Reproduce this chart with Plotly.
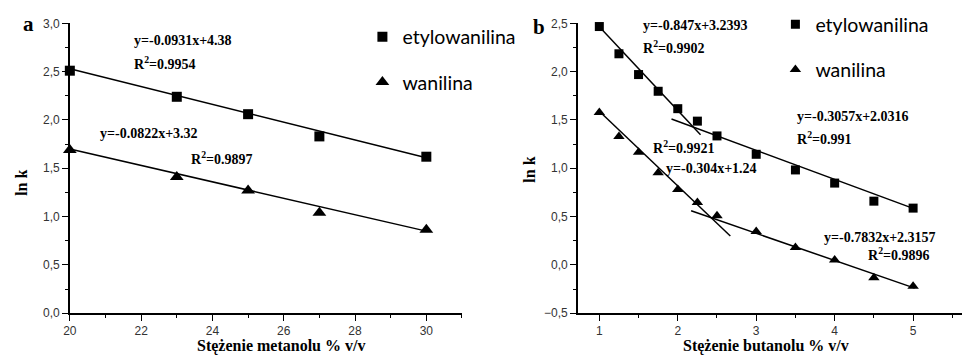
import plotly.graph_objects as go

W, H = 967, 364

# ---------------- data: panel a (metanol) ----------------
a_x = [20, 23, 25, 27, 30]
a_ety = [2.51, 2.24, 2.06, 1.83, 1.62]
a_wan = [1.69, 1.41, 1.27, 1.04, 0.865]
# fit lines (x endpoints, y endpoints)
a_fit_ety_x = [20, 30]
a_fit_ety_y = [2.53, 1.61]
a_fit_wan_x = [20, 30]
a_fit_wan_y = [1.70, 0.85]

# ---------------- data: panel b (butanol) ----------------
b_x = [1, 1.25, 1.5, 1.75, 2, 2.25, 2.5, 3, 3.5, 4, 4.5, 5]
b_ety = [2.467, 2.185, 1.97, 1.797, 1.617, 1.488, 1.335, 1.145, 0.983, 0.847, 0.66, 0.588]
b_wan = [1.578, 1.33, 1.165, 0.953, 0.78, 0.647, 0.508, 0.346, 0.18, 0.05, -0.133, -0.22]
b_fit_ety1_x = [1.0, 2.29]
b_fit_ety1_y = [2.465, 1.348]
b_fit_ety2_x = [1.92, 5.0]
b_fit_ety2_y = [1.51, 0.585]
b_fit_wan1_x = [1.0, 2.67]
b_fit_wan1_y = [1.59, 0.30]
b_fit_wan2_x = [2.17, 5.02]
b_fit_wan2_y = [0.56, -0.24]

series_names = ["etylowanilina", "wanilina"]
a_xticks = [20, 22, 24, 26, 28, 30]
a_yticks = [0.0, 0.5, 1.0, 1.5, 2.0, 2.5, 3.0]
b_xticks = [1, 2, 3, 4, 5]
b_yticks = [-0.5, 0.0, 0.5, 1.0, 1.5, 2.0, 2.5]

eqs = [
    # text, left px, center py
    ("y=-0.0931x+4.38", 126, 35),
    ("R<sup>2</sup>=0.9954", 126, 58),
    ("y=-0.0822x+3.32", 92, 132),
    ("R<sup>2</sup>=0.9897", 183, 157),
    ("y=-0.847x+3.2393", 639, 19),
    ("R<sup>2</sup>=0.9902", 639, 42),
    ("y=-0.3057x+2.0316", 794, 114),
    ("R<sup>2</sup>=0.991", 794, 136),
    ("R<sup>2</sup>=0.9921", 649, 146),
    ("y=-0.304x+1.24", 662, 168),
    ("y=-0.7832x+2.3157", 821, 240),
    ("R<sup>2</sup>=0.9896", 865, 257),
]

fig = go.Figure()

line_style = dict(color="black", width=1.5)

# panel a
fig.add_trace(go.Scatter(x=a_fit_ety_x, y=a_fit_ety_y, mode="lines", line=line_style,
                         xaxis="x", yaxis="y", showlegend=False, hoverinfo="skip"))
fig.add_trace(go.Scatter(x=a_fit_wan_x, y=a_fit_wan_y, mode="lines", line=line_style,
                         xaxis="x", yaxis="y", showlegend=False, hoverinfo="skip"))
fig.add_trace(go.Scatter(x=a_x, y=a_ety, mode="markers", name=series_names[0],
                         marker=dict(symbol="square", size=10, color="black"),
                         xaxis="x", yaxis="y", cliponaxis=False,
                         legend="legend", legendgroup="a1"))
fig.add_trace(go.Scatter(x=a_x, y=a_wan, mode="markers", name=series_names[1],
                         marker=dict(symbol="triangle-up", size=12, color="black"),
                         xaxis="x", yaxis="y", cliponaxis=False,
                         legend="legend", legendgroup="a2"))

# panel b
for fx, fy in [(b_fit_ety1_x, b_fit_ety1_y), (b_fit_ety2_x, b_fit_ety2_y),
               (b_fit_wan1_x, b_fit_wan1_y), (b_fit_wan2_x, b_fit_wan2_y)]:
    fig.add_trace(go.Scatter(x=fx, y=fy, mode="lines", line=line_style,
                             xaxis="x2", yaxis="y2", showlegend=False, hoverinfo="skip"))
fig.add_trace(go.Scatter(x=b_x, y=b_ety, mode="markers", name=series_names[0],
                         marker=dict(symbol="square", size=9, color="black"),
                         xaxis="x2", yaxis="y2", cliponaxis=False,
                         legend="legend2", legendgroup="b1"))
fig.add_trace(go.Scatter(x=b_x, y=b_wan, mode="markers", name=series_names[1],
                         marker=dict(symbol="triangle-up", size=10, color="black"),
                         xaxis="x2", yaxis="y2", cliponaxis=False,
                         legend="legend2", legendgroup="b2"))

tickfont = dict(family="Liberation Sans, Arial", size=12, color="#333")
common_axis = dict(showline=True, linecolor="black", linewidth=1.5, showgrid=False,
                   zeroline=False, ticks="outside", ticklen=6, tickwidth=1.2,
                   tickcolor="black", tickfont=tickfont, mirror=False)

ya0, ya1 = 1 - 318.5 / H, 1 - 17 / H
legend_font = dict(family="Lato, Open Sans", size=19.5, color="black")

fig.update_layout(
    width=W, height=H,
    margin=dict(l=0, r=0, t=0, b=0),
    paper_bgcolor="white", plot_bgcolor="white",
    separators=",.",
    xaxis=dict(domain=[63.3 / W, 458.3 / W], range=[20, 31], tickvals=a_xticks,
               minor=dict(dtick=1, tick0=20, ticks="outside", ticklen=3, tickcolor="black"),
               anchor="y", **common_axis),
    yaxis=dict(domain=[ya0, ya1], range=[0, 3.0], tickvals=a_yticks, tickformat=".1f",
               minor=dict(dtick=0.25, tick0=0, ticks="outside", ticklen=3, tickcolor="black"),
               anchor="x", **common_axis),
    xaxis2=dict(domain=[575 / W, 961.7 / W], range=[0.726, 5.62], tickvals=b_xticks,
                minor=dict(dtick=0.5, tick0=0.5, ticks="outside", ticklen=3, tickcolor="black"),
                anchor="y2", **common_axis),
    yaxis2=dict(domain=[ya0, ya1], range=[-0.5, 2.5], tickvals=b_yticks, tickformat=".1f",
                minor=dict(dtick=0.25, tick0=0, ticks="outside", ticklen=3, tickcolor="black"),
                anchor="x2", **common_axis),
    legend=dict(x=358 / W, y=1 - 11 / H, xanchor="left", yanchor="top",
                font=legend_font, bgcolor="rgba(0,0,0,0)", tracegroupgap=17,
                traceorder="grouped"),
    legend2=dict(x=774 / W, y=1 + 2 / H, xanchor="left", yanchor="top",
                 font=legend_font, bgcolor="rgba(0,0,0,0)", tracegroupgap=17,
                 traceorder="grouped"),
    showlegend=True,
)

serif = "Liberation Serif, Times New Roman"
annotations = []
for txt, px, py in eqs:
    annotations.append(dict(text="<b>" + txt + "</b>", x=px / W, y=1 - py / H,
                            xref="paper", yref="paper", xanchor="left", yanchor="middle",
                            showarrow=False, font=dict(family=serif, size=14, color="black")))
# panel letters
annotations.append(dict(text="<b>a</b>", x=14 / W, y=1 - 18 / H, xref="paper", yref="paper",
                        xanchor="left", yanchor="middle", showarrow=False,
                        font=dict(family=serif, size=21, color="black")))
annotations.append(dict(text="<b>b</b>", x=528 / W, y=1 - 21 / H, xref="paper", yref="paper",
                        xanchor="left", yanchor="middle", showarrow=False,
                        font=dict(family=serif, size=21, color="black")))
# axis titles
for cx, cy in [(15, 183), (526, 169)]:
    annotations.append(dict(text="<b>ln k</b>", x=cx / W, y=1 - cy / H, xref="paper", yref="paper",
                            xanchor="center", yanchor="middle", textangle=-90, showarrow=False,
                            font=dict(family=serif, size=16, color="black")))
for cx, txt in [(276, "Stężenie metanolu % v/v"), (765, "Stężenie butanolu % v/v")]:
    annotations.append(dict(text="<b>" + txt + "</b>", x=cx / W, y=1 - 353 / H,
                            xref="paper", yref="paper", xanchor="center", yanchor="middle",
                            showarrow=False, font=dict(family=serif, size=16, color="black")))
fig.update_layout(annotations=annotations)

fig.write_html("out.html")
